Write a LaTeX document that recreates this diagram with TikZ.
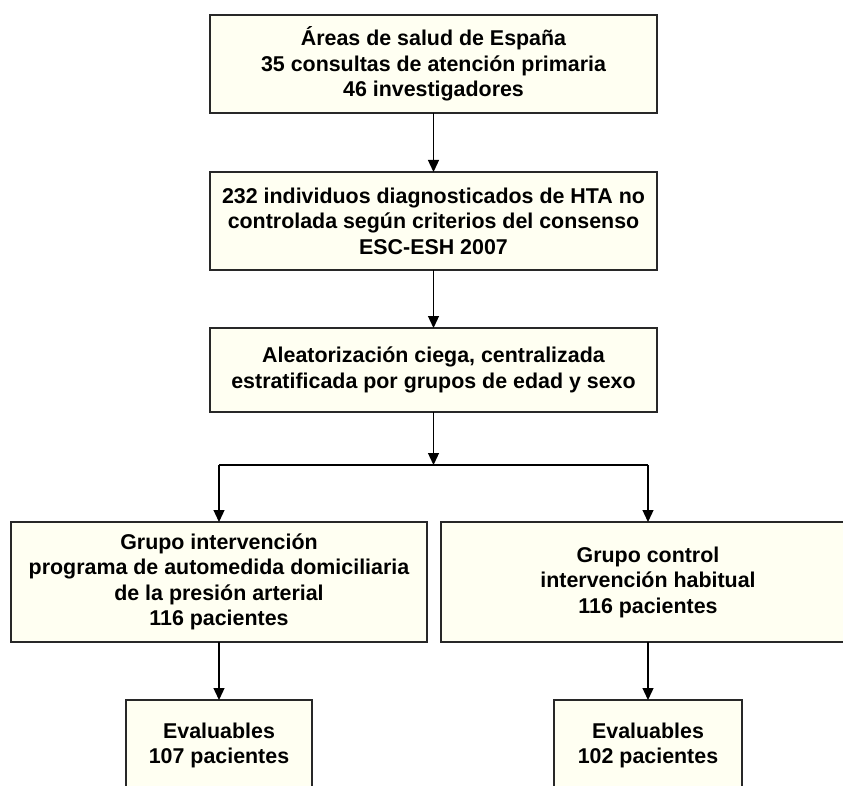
\documentclass[tikz,border=0pt]{standalone}
\usepackage{fontspec}
\setmainfont{Liberation Sans}
\usepackage{tikz}
\usetikzlibrary{arrows.meta}

\definecolor{boxfill}{RGB}{255,255,242}
\definecolor{boxline}{RGB}{40,40,40}

\begin{document}
\begin{tikzpicture}[x=1pt,y=-1pt,
	flow_box/.style={rectangle,draw=boxline,fill=boxfill,line width=1.5pt,align=center,inner sep=0pt,outer sep=0pt,font=\fontsize{21.4}{25.5}\selectfont\bfseries},
	flow_arrow/.style={line width=1.3pt,-{Triangle[length=12pt,width=11pt]}}]
	\useasboundingbox (0,0) rectangle (843,786);
	\clip (0,0) rectangle (843,786);
	\node[flow_box,minimum width=447pt,minimum height=98pt] (areas) at (433.5,64) {Áreas de salud de España\\35 consultas de atención primaria\\46 investigadores};
	\node[flow_box,minimum width=447pt,minimum height=98pt] (hta) at (433.5,221) {232 individuos diagnosticados de HTA no\\controlada según criterios del consenso\\ESC-ESH 2007};
	\node[flow_box,minimum width=447pt,minimum height=84pt] (aleat) at (433.5,370) {Aleatorización ciega, centralizada\\estratificada por grupos de edad y sexo};
	\node[flow_box,minimum width=416pt,minimum height=120pt] (interv) at (219,582) {Grupo intervención\\programa de automedida domiciliaria\\de la presión arterial\\116 pacientes};
	\node[flow_box,minimum width=414pt,minimum height=120pt] (control) at (648,582) {Grupo control\\intervención habitual\\116 pacientes};
	\node[flow_box,minimum width=186pt,minimum height=91pt] (eval_i) at (219,745.5) {Evaluables\\107 pacientes};
	\node[flow_box,minimum width=188pt,minimum height=91pt] (eval_c) at (648,745.5) {Evaluables\\102 pacientes};

	\coordinate (split) at (433.5,465);
	\coordinate (split_i) at (219,465);
	\coordinate (split_c) at (648,465);

	\draw[flow_arrow] (areas) -- (hta);
	\draw[flow_arrow] (hta) -- (aleat);
	\draw[flow_arrow] (aleat) -- (split);
	\draw[line width=1.3pt] (split_i) -- (split_c);
	\draw[flow_arrow] (split_i) -- (interv);
	\draw[flow_arrow] (split_c) -- (control);
	\draw[flow_arrow] (interv) -- (eval_i);
	\draw[flow_arrow] (control) -- (eval_c);
\end{tikzpicture}
\end{document}
